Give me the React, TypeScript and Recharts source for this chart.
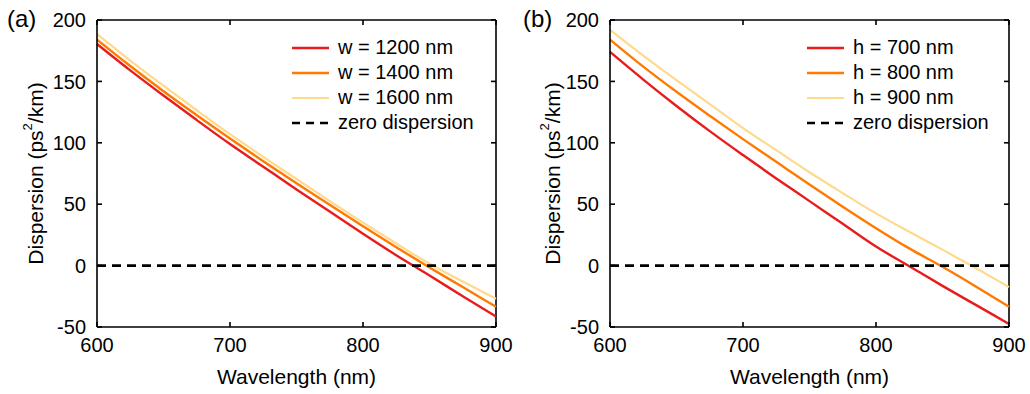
import React from "react";
import { LineChart, Line, XAxis, YAxis, Legend, CartesianGrid } from "recharts";

// wavelength samples (nm)
const wavelengths = [600, 625, 650, 675, 700, 725, 750, 775, 800, 825, 850, 875, 900];

// panel (a): width sweep, dispersion in ps^2/km
const w1200 = [180.5, 159, 138.5, 118.5, 99, 80.5, 62, 44, 26, 8.5, -8, -25, -41.5];
const w1400 = [184, 162.5, 142, 122.5, 103.5, 85, 67, 49.5, 32, 15, -1.5, -17.5, -33.5];
const w1600 = [188.5, 167, 146.5, 126.5, 107, 88.5, 70.5, 52.5, 35, 18, 1.5, -13, -27];

// panel (b): height sweep
const h700 = [174, 151.5, 130, 109.5, 90, 71, 52.5, 34, 15.5, -0.5, -16.5, -32, -47.5];
const h800 = [184, 162, 141.5, 122, 103, 84.5, 66, 48, 30.5, 14, -1, -17, -33.5];
const h900 = [192, 171, 151, 131.5, 112, 94, 76, 59, 42.5, 27.5, 13, -2, -17.5];

const zeroLine = wavelengths.map(() => 0);

const xTicks = [600, 700, 800, 900];
const yTicks = [-50, 0, 50, 100, 150, 200];

const RED = "#e81c1a";
const ORANGE = "#ff7a00";
const YELLOW = "#ffd98c";
const FONT = "'Liberation Sans', Arial, sans-serif";

// layout
const CHART_W = 515;
const CHART_H = 394;
const TOP = 20;
const X_AXIS_H = 67;
const PLOT_H = CHART_H - TOP - X_AXIS_H;
const TICK_LEN = 5;
const FRAME_W = 1.6;

interface Series {
  key: string;
  name: string;
  color: string;
  dash?: string;
  width: number;
}

const buildRows = (a: number[], b: number[], c: number[]) =>
  wavelengths.map((wl, i) => ({ wl, s0: a[i], s1: b[i], s2: c[i], zero: zeroLine[i] }));

const seriesA: Series[] = [
  { key: "s0", name: "w = 1200 nm", color: RED, width: 2.4 },
  { key: "s1", name: "w = 1400 nm", color: ORANGE, width: 2.4 },
  { key: "s2", name: "w = 1600 nm", color: YELLOW, width: 2.2 },
  { key: "zero", name: "zero dispersion", color: "#000", dash: "9 6", width: 2.6 },
];

const seriesB: Series[] = [
  { key: "s0", name: "h = 700 nm", color: RED, width: 2.4 },
  { key: "s1", name: "h = 800 nm", color: ORANGE, width: 2.4 },
  { key: "s2", name: "h = 900 nm", color: YELLOW, width: 2.2 },
  { key: "zero", name: "zero dispersion", color: "#000", dash: "9 6", width: 2.6 },
];

const axisStroke = { stroke: "#000", strokeWidth: FRAME_W };

// x tick: label below, inward tick marks at the bottom and top edges
const XTick = (p: any) => {
  const { x, y, payload } = p;
  const top = y - PLOT_H;
  return (
    <g>
      <rect x={x - FRAME_W / 2} y={y - TICK_LEN} width={FRAME_W} height={TICK_LEN} fill="#000" />
      <rect x={x - FRAME_W / 2} y={top} width={FRAME_W} height={TICK_LEN} fill="#000" />
      <text x={x} y={y + 11} dy="0.71em" textAnchor="middle" fontSize={20} fontFamily={FONT} fill="#000">
        {payload.value}
      </text>
    </g>
  );
};

// y tick: label left, inward tick marks at the left and right edges
const makeYTick = (plotW: number) => (p: any) => {
  const { x, y, payload } = p;
  const right = x + plotW;
  return (
    <g>
      <rect x={x} y={y - FRAME_W / 2} width={TICK_LEN} height={FRAME_W} fill="#000" />
      <rect x={right - TICK_LEN} y={y - FRAME_W / 2} width={TICK_LEN} height={FRAME_W} fill="#000" />
      <text x={x - 11} y={y} dy="0.355em" textAnchor="end" fontSize={20} fontFamily={FONT} fill="#000">
        {payload.value}
      </text>
    </g>
  );
};

function LegendBox({ series }: { series: Series[] }) {
  return (
    <div style={{ fontFamily: FONT, fontSize: 20, color: "#000" }}>
      {series.map((s) => (
        <div key={s.key} style={{ display: "flex", alignItems: "center", height: 25 }}>
          <svg width={37} height={6} style={{ marginRight: 9 }}>
            <line
              x1={0}
              y1={3}
              x2={37}
              y2={3}
              stroke={s.color}
              strokeWidth={s.width}
              strokeDasharray={s.dash ? "8 6" : undefined}
            />
          </svg>
          <span>{s.name}</span>
        </div>
      ))}
    </div>
  );
}

interface PanelProps {
  tag: string;
  rows: ReturnType<typeof buildRows>;
  series: Series[];
  yAxisWidth: number;
  rightMargin: number;
  labelX: number;
}

function Panel({ tag, rows, series, yAxisWidth, rightMargin, labelX }: PanelProps) {
  const plotW = CHART_W - yAxisWidth - rightMargin;
  return (
    <div style={{ position: "relative", width: CHART_W, height: CHART_H }}>
      <LineChart
        width={CHART_W}
        height={CHART_H}
        data={rows}
        margin={{ top: TOP, right: rightMargin, bottom: 0, left: 0 }}
      >
        {/* top and right edges of the box, taken from the plot offset */}
        <CartesianGrid
          stroke="#000"
          strokeWidth={FRAME_W}
          horizontalCoordinatesGenerator={({ offset }: any) => [offset.top]}
          verticalCoordinatesGenerator={({ offset }: any) => [offset.left + offset.width]}
        />
        <XAxis
          dataKey="wl"
          type="number"
          domain={[600, 900]}
          ticks={xTicks}
          height={X_AXIS_H}
          tickLine={false}
          tickSize={0}
          tickMargin={0}
          axisLine={axisStroke}
          tick={XTick}
          label={{
            content: (props: any) => {
              const vb = props.viewBox || {};
              return (
                <text
                  x={vb.x + vb.width / 2}
                  y={vb.y + 57}
                  textAnchor="middle"
                  fontSize={21}
                  fontFamily={FONT}
                  fill="#000"
                >
                  Wavelength (nm)
                </text>
              );
            },
          }}
        />
        <YAxis
          type="number"
          domain={[-50, 200]}
          ticks={yTicks}
          width={yAxisWidth}
          tickLine={false}
          tickSize={0}
          tickMargin={0}
          axisLine={axisStroke}
          tick={makeYTick(plotW)}
          label={{
            content: (props: any) => {
              const vb = props.viewBox || {};
              const cy = vb.y + vb.height / 2;
              return (
                <text
                  x={labelX}
                  y={cy}
                  transform={`rotate(-90 ${labelX} ${cy})`}
                  textAnchor="middle"
                  dominantBaseline="central"
                  fontSize={21}
                  fontFamily={FONT}
                  fill="#000"
                >
                  Dispersion (ps
                  <tspan fontSize={13} dy={-8}>
                    2
                  </tspan>
                  <tspan dy={8}>/km)</tspan>
                </text>
              );
            },
          }}
        />
        {series.map((s) => (
          <Line
            key={s.key}
            dataKey={s.key}
            name={s.name}
            type="monotone"
            stroke={s.color}
            strokeWidth={s.width}
            strokeDasharray={s.dash}
            dot={false}
            activeDot={false}
            isAnimationActive={false}
          />
        ))}
        <Legend
          layout="vertical"
          align="center"
          verticalAlign="middle"
          wrapperStyle={{ left: 292, top: 35, width: "auto", height: "auto" }}
          content={() => <LegendBox series={series} />}
        />
      </LineChart>
      <div
        style={{
          position: "absolute",
          left: tag === "(a)" ? 7 : 8,
          top: 7,
          fontFamily: FONT,
          fontSize: 24,
          lineHeight: "24px",
          color: "#000",
        }}
      >
        {tag}
      </div>
    </div>
  );
}

export default function App() {
  return (
    <div
      style={{
        position: "absolute",
        left: 0,
        top: 0,
        width: 1030,
        height: 394,
        display: "flex",
        background: "#fff",
      }}
    >
      <Panel
        tag="(a)"
        rows={buildRows(w1200, w1400, w1600)}
        series={seriesA}
        yAxisWidth={97}
        rightMargin={19}
        labelX={35}
      />
      <Panel
        tag="(b)"
        rows={buildRows(h700, h800, h900)}
        series={seriesB}
        yAxisWidth={95}
        rightMargin={21}
        labelX={37}
      />
    </div>
  );
}
